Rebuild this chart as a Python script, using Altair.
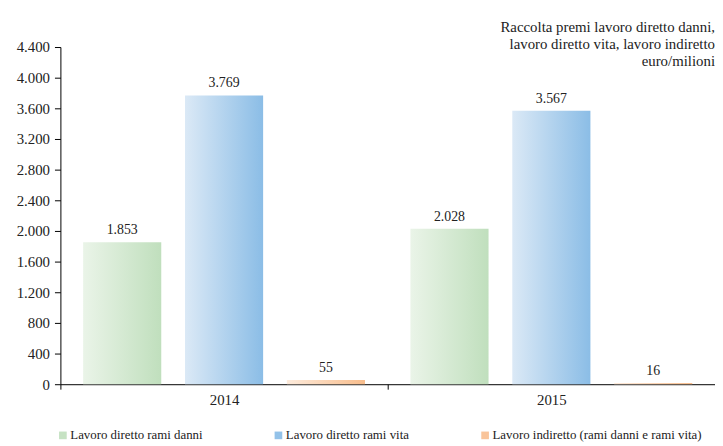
import altair as alt
import pandas as pd

years = ["2014", "2015"]
series = [
    "Lavoro diretto rami danni",
    "Lavoro diretto rami vita",
    "Lavoro indiretto (rami danni e rami vita)",
]
values_2014 = [1853, 3769, 55]
values_2015 = [2028, 3567, 16]
y_ticks = [0, 400, 800, 1200, 1600, 2000, 2400, 2800, 3200, 3600, 4000, 4400]
title_lines = [
    "Raccolta premi lavoro diretto danni,",
    "lavoro diretto vita, lavoro indiretto",
    "euro/milioni",
]

grad_stops = [
    ("#eaf4e8", "#c0dfbd"),
    ("#dbe9f6", "#8bbde6"),
    ("#fdebdc", "#f8bd8c"),
]
legend_colors = ["#c6e2c3", "#93c2e9", "#f9c49a"]

rows = []
for y, vals in zip(years, [values_2014, values_2015]):
    for s, v in zip(series, vals):
        rows.append({"year": y, "series": s, "value": v})
df = pd.DataFrame(rows)

FONT = "Liberation Serif"

x_enc = alt.X(
    "year:N",
    title=None,
    scale=alt.Scale(paddingInner=0, paddingOuter=0),
    axis=alt.Axis(
        labelAngle=0,
        tickBand="extent",
        tickSize=5,
        domainColor="#000000",
        tickColor="#000000",
        labelFont=FONT,
        labelFontSize=15,
        labelColor="#222222",
        labelPadding=4,
    ),
)
xoff_enc = alt.XOffset(
    "series:N",
    sort=series,
    scale=alt.Scale(paddingInner=0.233, paddingOuter=0.223),
)
y_enc = alt.Y(
    "value:Q",
    title=None,
    scale=alt.Scale(domain=[0, 4400], nice=False),
    axis=alt.Axis(
        values=y_ticks,
        grid=False,
        tickSize=6,
        domainColor="#000000",
        tickColor="#000000",
        labelFont=FONT,
        labelFontSize=15,
        labelColor="#222222",
        labelPadding=5,
        labelExpr="replace(format(datum.value, ','), ',', '.')",
    ),
)

base = alt.Chart(df).encode(x=x_enc, xOffset=xoff_enc, y=y_enc)

layers = []
for s, (c0, c1) in zip(series, grad_stops):
    grad = alt.Gradient(
        gradient="linear",
        stops=[alt.GradientStop(color=c0, offset=0), alt.GradientStop(color=c1, offset=1)],
        x1=0, x2=1, y1=0, y2=0,
    )
    layers.append(
        base.transform_filter(alt.datum.series == s).mark_bar(color=grad)
    )

legend_layer = base.mark_bar(opacity=0).encode(
    color=alt.Color(
        "series:N",
        sort=series,
        scale=alt.Scale(domain=series, range=legend_colors),
        legend=alt.Legend(
            title=None,
            orient="none",
            direction="horizontal",
            legendX=-4,
            legendY=386,
            symbolType="square",
            symbolSize=60,
            symbolOpacity=1,
            symbolStrokeWidth=0,
            labelFont=FONT,
            labelFontSize=13,
            labelColor="#222222",
            labelOffset=1,
            columnPadding=70,
            labelLimit=400,
        ),
    )
)

text_layer = base.transform_calculate(
    label="replace(format(datum.value, ','), ',', '.')"
).mark_text(
    baseline="bottom", dy=-5, font=FONT, fontSize=14, color="#222222"
).encode(text="label:N")

chart = alt.layer(*layers, legend_layer, text_layer).properties(
    width=662,
    height=341,
    autosize=alt.AutoSizeParams(type="none"),
    padding={"left": 53, "top": 37, "right": 0, "bottom": 58},
    title=alt.TitleParams(
        text=title_lines,
        anchor="end",
        align="right",
        orient="top",
        frame="group",
        offset=0,
        dy=29,
        font=FONT,
        fontSize=15,
        fontWeight="normal",
        color="#222222",
        lineHeight=17,
    ),
).configure_view(stroke=None)

chart.save("out.html", embed_options={"renderer": "svg", "actions": False})
